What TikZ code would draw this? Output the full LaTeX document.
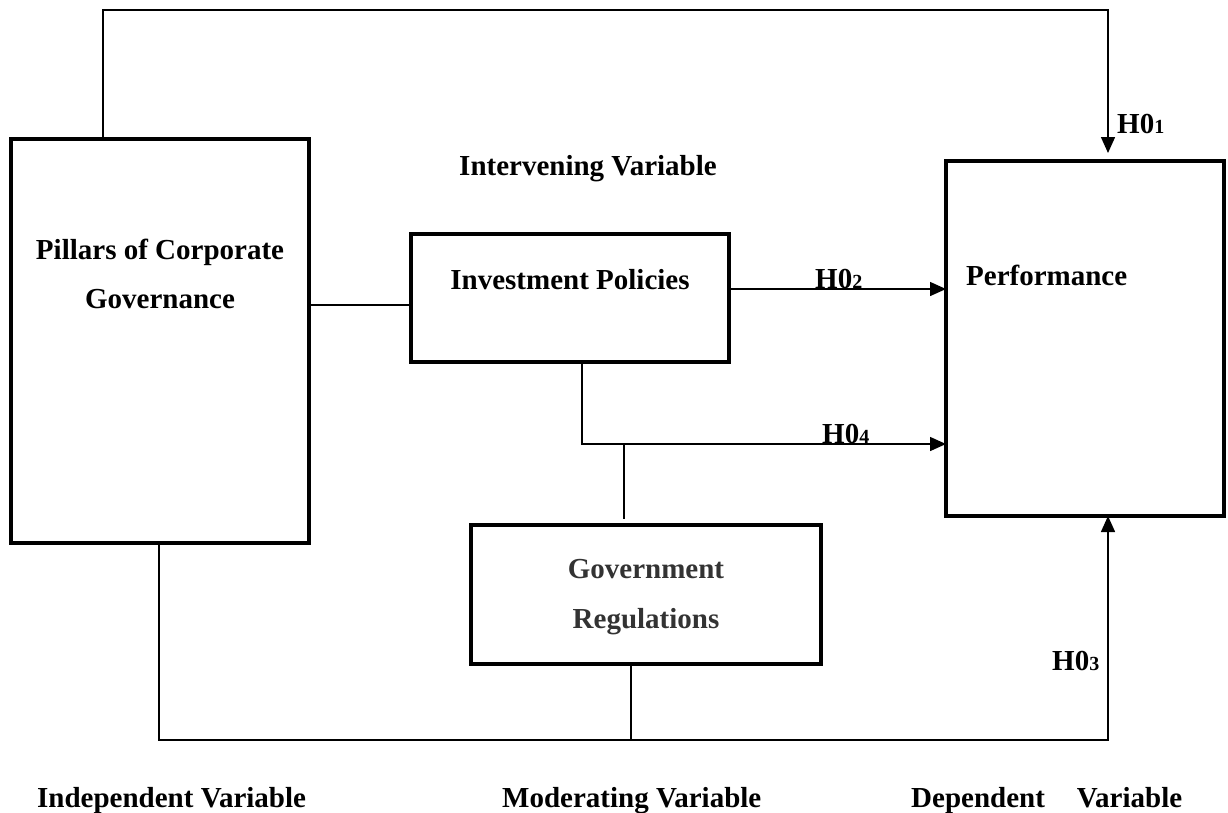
\documentclass[tikz,border=0pt]{standalone}
\usepackage{fontspec}
\setmainfont{Liberation Serif}
\usetikzlibrary{arrows.meta}
\tikzset{
  box/.style={draw, line width=4pt, inner sep=0pt, outer sep=0pt},
  conn/.style={line width=1.5pt},
  arr/.style={conn, -{Triangle[length=16pt,width=14pt]}},
  txt/.style={font=\fontsize{29}{29}\selectfont\bfseries, inner sep=0pt, anchor=base},
  hyp/.style={txt, anchor=base west}
}
\newcommand{\sm}[1]{{\fontsize{20}{20}\selectfont #1}}
\begin{document}
\begin{tikzpicture}[x=1pt,y=-1pt]
\useasboundingbox (0,0) rectangle (1228,812);
% boxes
\node[box, minimum width=298pt, minimum height=404pt] (pillars) at (160,341) {};
\node[box, minimum width=278pt, minimum height=355pt] (perf) at (1085,338.5) {};
\node[box, minimum width=318pt, minimum height=128pt] (invest) at (570,298) {};
\node[box, minimum width=350pt, minimum height=139pt] (gov) at (646,594.5) {};
% texts in boxes
\node[txt] (p1) at (160,259) {Pillars of Corporate};
\node[txt] (p2) at (160,308) {Governance};
\node[txt] (iv) at (570,289) {Investment Policies};
\node[txt, anchor=base west] (pf) at (966,285) {Performance};
\node[txt, text=black!80] (g1) at (646,578) {Government};
\node[txt, text=black!80] (g2) at (646,628) {Regulations};
% other labels
\node[txt] (intv) at (588,175) {Intervening Variable};
\node[txt, anchor=base west] (indep) at (37,807) {Independent Variable};
\node[txt, anchor=base west] (mod) at (502,807) {Moderating Variable};
\node[txt, anchor=base west] (dep) at (911,807) {Dependent\hspace{32pt}Variable};
% coordinates
\coordinate (t1) at (103,10);
\coordinate (t2) at (1108,10);
\coordinate (b1) at (159,740);
\coordinate (b2) at (1108,740);
\coordinate (m1) at (582,444);
\coordinate (m2) at (624,444);
\coordinate (l1) at (0,305);
\coordinate (r1) at (0,289);
\coordinate (gb) at (631,740);
% connectors
\draw[arr, shorten >=8pt] (t1 |- pillars.north) -- (t1) -- (t2) -- (t2 |- perf.north);
\draw[conn] (pillars.east |- l1) -- (invest.west |- l1);
\draw[arr] (invest.east |- r1) -- (perf.west |- r1);
\draw[arr] (m1 |- invest.south) -- (m1) -- (perf.west |- m1);
\draw[conn, shorten >=6pt] (m2) -- (m2 |- gov.north);
\draw[conn] (gb |- gov.south) -- (gb);
\draw[arr] (b1 |- pillars.south) -- (b1) -- (b2) -- (b2 |- perf.south);
% hypothesis labels
\node[hyp] (h1) at (1117,133) {H0\sm{1}};
\node[hyp] (h2) at (815,288) {H0\sm{2}};
\node[hyp] (h4) at (822,443) {H0\sm{4}};
\node[hyp] (h3) at (1052,670) {H0\sm{3}};
\end{tikzpicture}
\end{document}
